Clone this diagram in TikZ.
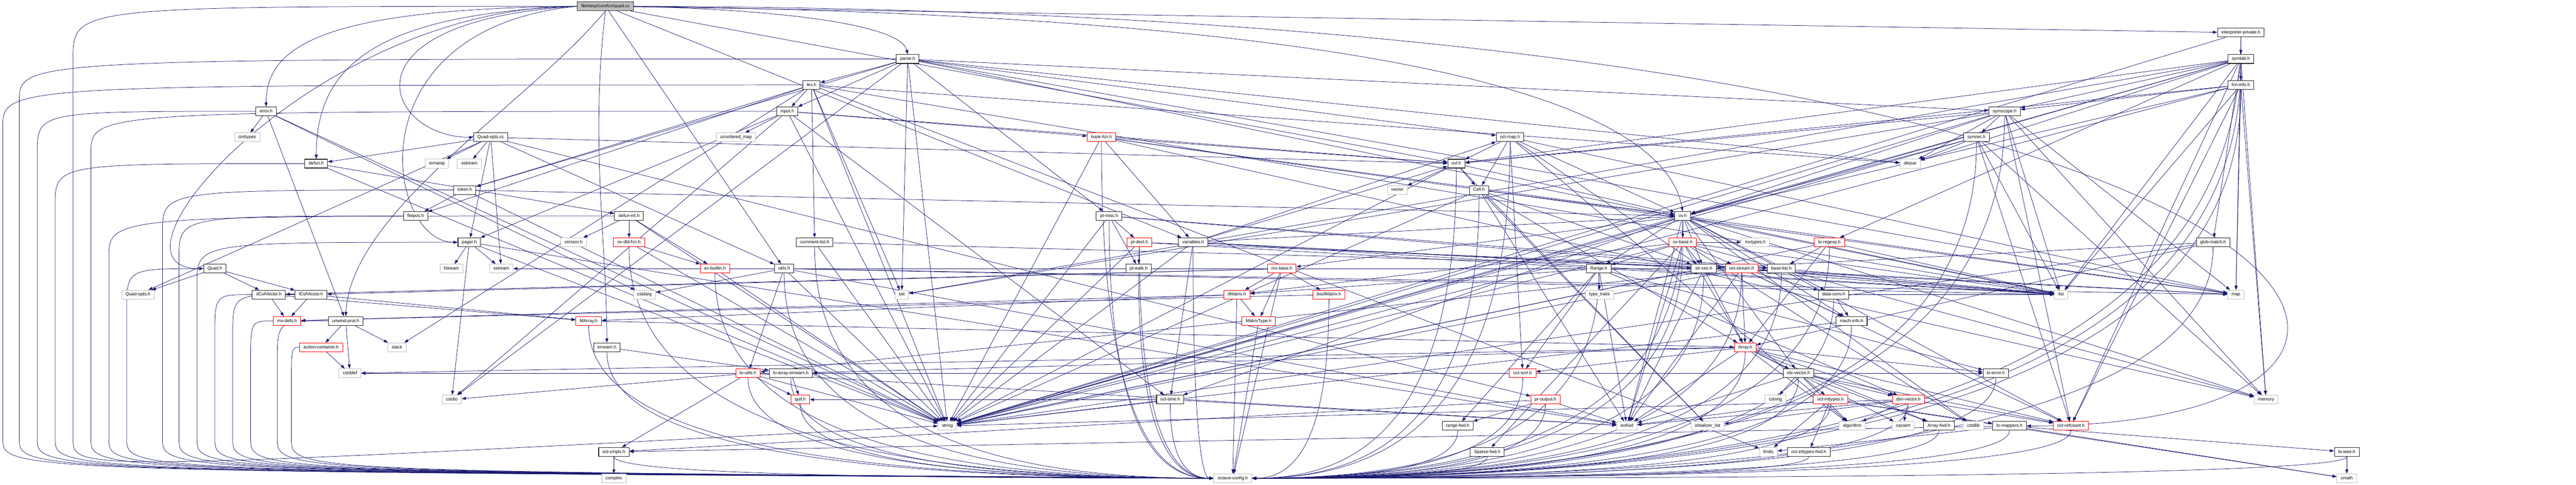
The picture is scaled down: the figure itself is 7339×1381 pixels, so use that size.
\documentclass[tikz,border=0pt]{standalone}
\usepackage{fontspec}
\setmainfont{Liberation Sans}
\usetikzlibrary{arrows.meta,backgrounds,calc}
\definecolor{edgeblue}{HTML}{191970}
\definecolor{sysgray}{HTML}{BFBFBF}
\begin{document}
\begin{tikzpicture}[x=1pt,y=-1pt,
  box/.style={draw, rectangle, fill=white, font=\fontsize{12.7}{14}\selectfont, inner xsep=11pt, inner ysep=0pt, minimum height=25pt, text height=9.5pt, text depth=2.7pt},
  doc/.style={box, draw=black!85, line width=1.6pt},
  sys/.style={box, draw=sysgray, line width=1.4pt},
  trunc/.style={box, draw=red, line width=1.4pt},
  rootn/.style={box, fill=sysgray, draw=black!80, line width=1.6pt},
  e/.style={draw=edgeblue, line width=1.1pt, -{Triangle[length=12pt,width=8.5pt]}}]
\useasboundingbox (0,0) rectangle (7339,1381);
% ---------------- nodes
\node[rootn] (quadcc) at (1725,18) {libinterp/corefcn/quad.cc};
\node[doc] (interppriv) at (6384,93) {interpreter-private.h};
\node[doc] (parseh) at (2586,168) {parse.h};
\node[doc] (symtab) at (6384,168) {symtab.h};
\node[doc] (lexh) at (2312,242) {lex.h};
\node[doc] (fcninfo) at (6384,242) {fcn-info.h};
\node[doc] (errorh) at (758,317) {error.h};
\node[doc] (inputh) at (2243,317) {input.h};
\node[doc] (symscope) at (5711,317) {symscope.h};
\node[sys] (cinttypes) at (704,391) {cinttypes};
\node[doc] (quadoptscc) at (1398,391) {Quad-opts.cc};
\node[sys] (unordmap) at (2097,391) {unordered\_map};
\node[trunc] (hookfcn) at (3138,391) {hook-fcn.h};
\node[doc] (octmap) at (4302,391) {oct-map.h};
\node[doc] (symrec) at (5631,391) {symrec.h};
\node[doc] (defunh) at (901,466) {defun.h};
\node[sys] (iomanip) at (1245,466) {iomanip};
\node[sys] (ostream) at (1337,466) {ostream};
\node[doc] (ovlh) at (4149,466) {ovl.h};
\node[sys] (deque) at (5442,466) {deque};
\node[doc] (tokenh) at (1324,541) {token.h};
\node[sys] (vector) at (3981,541) {vector};
\node[doc] (cellh) at (4214,541) {Cell.h};
\node[doc] (filepos) at (1184,615) {filepos.h};
\node[doc] (defunint) at (1792,615) {defun-int.h};
\node[doc] (ptmisc) at (3160,615) {pt-misc.h};
\node[doc] (ovh) at (4794,615) {ov.h};
\node[doc] (pagerh) at (1337,690) {pager.h};
\node[sys] (versionh) at (1634,690) {version.h};
\node[trunc] (ovdld) at (1792,690) {ov-dld-fcn.h};
\node[doc] (commentlist) at (2321,690) {comment-list.h};
\node[trunc] (ptdecl) at (3246,690) {pt-decl.h};
\node[doc] (variables) at (3399,690) {variables.h};
\node[trunc] (ovbase) at (4794,690) {ov-base.h};
\node[sys] (mxtypes) at (5001,690) {mxtypes.h};
\node[trunc] (loregexp) at (5212,690) {lo-regexp.h};
\node[doc] (globmatch) at (6305,690) {glob-match.h};
\node[doc] (quadh) at (612,765) {Quad.h};
\node[sys] (fstream) at (1286,765) {fstream};
\node[sys] (sstream) at (1428,765) {sstream};
\node[trunc] (ovbuiltin) at (2037,765) {ov-builtin.h};
\node[doc] (utilsh) at (2234,765) {utils.h};
\node[doc] (ptwalk) at (3244,765) {pt-walk.h};
\node[trunc] (mxbase) at (3652,765) {mx-base.h};
\node[doc] (rangeh) at (4555,765) {Range.h};
\node[doc] (strvec) at (4854,765) {str-vec.h};
\node[trunc] (octstream) at (4962,765) {oct-stream.h};
\node[doc] (baselist) at (5075,765) {base-list.h};
\node[sys] (quadoptsh) at (393,839) {Quad-opts.h};
\node[doc] (dcolvec) at (766,839) {dColVector.h};
\node[doc] (fcolvec) at (886,839) {fColVector.h};
\node[sys] (cstdarg) at (1836,839) {cstdarg};
\node[sys] (seth) at (2569,839) {set};
\node[trunc] (dmatrix) at (3524,839) {dMatrix.h};
\node[trunc] (boolmatrix) at (3786,839) {boolMatrix.h};
\node[sys] (typetraits) at (4557,839) {type\_traits};
\node[doc] (datac) at (5224,839) {data-conv.h};
\node[sys] (list) at (5872,839) {list};
\node[sys] (map) at (6370,839) {map};
\node[trunc] (mxdefs) at (818,914) {mx-defs.h};
\node[doc] (unwind) at (985,914) {unwind-prot.h};
\node[trunc] (marray) at (1677,914) {MArray.h};
\node[trunc] (matrixtype) at (3586,914) {MatrixType.h};
\node[doc] (machinfo) at (5275,914) {mach-info.h};
\node[trunc] (actioncont) at (915,989) {action-container.h};
\node[sys] (stack) at (1131,989) {stack};
\node[doc] (errwarn) at (1729,989) {errwarn.h};
\node[trunc] (arrayh) at (4972,989) {Array.h};
\node[sys] (cstddef) at (997,1063) {cstddef};
\node[trunc] (loutils) at (2131,1063) {lo-utils.h};
\node[doc] (loarrayerr) at (2253,1063) {lo-array-errwarn.h};
\node[trunc] (octsort) at (4338,1063) {oct-sort.h};
\node[doc] (idxvec) at (5124,1063) {idx-vector.h};
\node[doc] (loerror) at (5686,1063) {lo-error.h};
\node[sys] (cstdio) at (1287,1138) {cstdio};
\node[trunc] (quith) at (2280,1138) {quit.h};
\node[doc] (octtime) at (3334,1138) {oct-time.h};
\node[trunc] (proutput) at (4403,1138) {pr-output.h};
\node[sys] (cstring) at (5058,1138) {cstring};
\node[trunc] (octinttypes) at (5215,1138) {oct-inttypes.h};
\node[trunc] (dimvec) at (5437,1138) {dim-vector.h};
\node[sys] (memory) at (6456,1138) {memory};
\node[sys] (string) at (2699,1213) {string};
\node[doc] (rangefwd) at (4153,1213) {range-fwd.h};
\node[sys] (iosfwd) at (4635,1213) {iosfwd};
\node[sys] (initlist) at (4865,1213) {initializer\_list};
\node[sys] (algorithm) at (5277,1213) {algorithm};
\node[sys] (cassert) at (5422,1213) {cassert};
\node[doc] (arrayfwd) at (5524,1213) {Array-fwd.h};
\node[sys] (cstdlib) at (5622,1213) {cstdlib};
\node[doc] (lomappers) at (5725,1213) {lo-mappers.h};
\node[trunc] (octrefcount) at (5900,1213) {oct-refcount.h};
\node[doc] (octcmplx) at (1749,1287) {oct-cmplx.h};
\node[doc] (sparsefwd) at (4237,1287) {Sparse-fwd.h};
\node[sys] (limits) at (5038,1287) {limits};
\node[doc] (octinttypesfwd) at (5153,1287) {oct-inttypes-fwd.h};
\node[doc] (loieee) at (6686,1287) {lo-ieee.h};
\node[sys] (complex) at (1749,1362) {complex};
\node[sys] (octaveconfig) at (3512,1362) {octave-config.h};
\node[sys] (cmath) at (6686,1362) {cmath};
\coordinate (Bot) at (0,1250);
\coordinate (Tp) at (0,1342);
\coordinate (Lr) at (208,0);
% ---------------- edges
\begin{pgfonlayer}{background}
\draw[e] (quadcc.west) .. controls (900,18) and (250,765) .. (quadh.west);
\draw[e] (quadcc.west) .. controls (950,25) and (758,120) .. (errorh.north);
\draw[e] (quadcc.west) .. controls (1050,40) and (901,200) .. (defunh.north);
\draw[e] (quadcc.west) .. controls (950,60) and (1100,391) .. (quadoptscc.west);
\draw[e] (quadcc.west) .. controls (1000,80) and (1100,690) .. (pagerh.west);
\draw[e] (quadcc.south) .. controls (1680,400) and (1729,700) .. (errwarn.north);
\draw[e] (quadcc.east) .. controls (2300,30) and (2570,80) .. (parseh.north);
\draw[e] (quadcc.south) .. controls (1500,300) and (1000,600) .. (unwind.north);
\draw[e] (quadcc.east) .. controls (3500,40) and (4720,200) .. (ovh.north);
\draw[e] (quadcc.east) .. controls (6800,30) and (7250,1213) .. (lomappers.east);
\draw[e] (quadcc.west) .. controls (Lr |- quadcc.west) .. ($(Lr |- quadcc.west)+(0,150)$) -- (Lr |- Bot) .. controls (Lr |- Tp) .. (string.west);
\foreach \t in {utilsh,variables,ovlh,interppriv} \draw[e] (quadcc) -- (\t);
\foreach \t in {symtab,string} \draw[e] (interppriv) -- (\t);
\foreach \t in {fcninfo,symscope,globmatch,loregexp,map,list,seth,deque,string,ovh,ovlh,memory,octrefcount} \draw[e] (symtab) -- (\t);
\foreach \t in {symscope,ovh,ovlh,list,map,string,memory,octrefcount} \draw[e] (fcninfo) -- (\t);
\foreach \t in {lexh,ptmisc,symscope,tokenh,deque,list,map,seth,string,cstdio,octmap,inputh} \draw[e] (parseh) -- (\t);
\foreach \t in {inputh,tokenh,commentlist,filepos,stack,seth,deque,list,limits,string} \draw[e] (lexh) -- (\t);
\foreach \t in {unordmap,hookfcn,string,octtime,ovlh,cstdio,pagerh} \draw[e] (inputh) -- (\t);
\foreach \t in {cinttypes,cstdarg,unwind,string} \draw[e] (errorh) -- (\t);
\foreach \t in {symrec,deque,list,map,seth,string,memory,ovh,ovlh,octrefcount} \draw[e] (symscope) -- (\t);
\foreach \t in {iomanip,ostream,quadoptsh,defunh,proutput,ovlh,utilsh,pagerh,sstream} \draw[e] (quadoptscc) -- (\t);
\foreach \t in {string,map,memory,ovh,ovlh,variables} \draw[e] (hookfcn) -- (\t);
\foreach \t in {ovlh,cellh,ovh,strvec,octsort,map,algorithm} \draw[e] (octmap) -- (\t);
\foreach \t in {deque,list,string,ovh,memory,octrefcount} \draw[e] (symrec) -- (\t);
\foreach \t in {defunint,string} \draw[e] (defunh) -- (\t);
\foreach \t in {vector,cellh,ovh,string,initlist} \draw[e] (ovlh) -- (\t);
\foreach \t in {filepos,string,ovh} \draw[e] (tokenh) -- (\t);
\foreach \t in {ovh,arrayh,strvec,initlist,string,iosfwd} \draw[e] (cellh) -- (\t);
\foreach \t in {versionh,ovdld,ovbuiltin,string} \draw[e] (defunint) -- (\t);
\foreach \t in {ptdecl,ptwalk,list,baselist,string} \draw[e] (ptmisc) -- (\t);
\foreach \t in {ovbase,rangeh,strvec,datac,machinfo,idxvec,octtime,mxbase,octrefcount,iosfwd,list,map,string,cstdlib,memory} \draw[e] (ovh) -- (\t);
\foreach \t in {fstream,sstream,cstdio,iosfwd,string} \draw[e] (pagerh) -- (\t);
\foreach \t in {ovbuiltin,string} \draw[e] (ovdld) -- (\t);
\foreach \t in {string,baselist} \draw[e] (commentlist) -- (\t);
\foreach \t in {ptwalk,baselist,string,list} \draw[e] (ptdecl) -- (\t);
\foreach \t in {octtime,string,list,map,octmap,ovh,ovlh,strvec} \draw[e] (variables) -- (\t);
\foreach \t in {strvec,rangeh,mxtypes,dmatrix,sparsefwd,octstream,iosfwd,list,string,cstdlib,memory,arrayh} \draw[e] (ovbase) -- (\t);
\foreach \t in {baselist,arrayh,list,string} \draw[e] (loregexp) -- (\t);
\foreach \t in {string,strvec,arrayh} \draw[e] (globmatch) -- (\t);
\foreach \t in {quadoptsh,dcolvec,fcolvec} \draw[e] (quadh) -- (\t);
\draw[e] (ovbuiltin) -- (string);
\foreach \t in {loutils,cstdarg,string,list,map,iosfwd} \draw[e] (utilsh) -- (\t);
\foreach \t in {dcolvec,fcolvec,dmatrix,matrixtype,boolmatrix} \draw[e] (mxbase) -- (\t);
\foreach \t in {typetraits,iosfwd,octsort,loerror,dimvec,dmatrix,rangefwd} \draw[e] (rangeh) -- (\t);
\foreach \t in {arrayh,iosfwd,list,string} \draw[e] (strvec) -- (\t);
\foreach \t in {datac,machinfo,list,map,sstream,iosfwd,string,arrayh,loutils,octrefcount} \draw[e] (octstream) -- (\t);
\draw[e] (baselist) -- (list);
\foreach \t in {mxdefs,marray} \draw[e] (dcolvec) -- (\t);
\foreach \t in {mxdefs,marray} \draw[e] (fcolvec) -- (\t);
\foreach \t in {mxdefs,marray,matrixtype} \draw[e] (dmatrix) -- (\t);
\draw[e] (boolmatrix) -- (mxdefs);
\foreach \t in {machinfo,list} \draw[e] (datac) -- (\t);
\draw[e] (machinfo) -- (string);
\foreach \t in {actioncont,stack,cstddef} \draw[e] (unwind) -- (\t);
\draw[e] (marray) -- (arrayh);
\draw[e] (actioncont) -- (cstddef);
\draw[e] (errwarn) -- (loarrayerr);
\foreach \t in {idxvec,dimvec,loerror,arrayfwd,algorithm,cassert,cstddef,iosfwd,octsort,octrefcount,loarrayerr} \draw[e] (arrayh) -- (\t);
\foreach \t in {quith,octcmplx,cstdio,iosfwd,string} \draw[e] (loutils) -- (\t);
\foreach \t in {quith,loerror} \draw[e] (loarrayerr) -- (\t);
\foreach \t in {cstring,octinttypes,dimvec,algorithm,arrayfwd,octrefcount,iosfwd,cstddef,loarrayerr} \draw[e] (idxvec) -- (\t);
\foreach \t in {string,iosfwd,quith} \draw[e] (octtime) -- (\t);
\foreach \t in {rangefwd,iosfwd,octcmplx} \draw[e] (proutput) -- (\t);
\foreach \t in {limits,octinttypesfwd,cmath,lomappers,iosfwd} \draw[e] (octinttypes) -- (\t);
\foreach \t in {algorithm,cassert,initlist,iosfwd,octrefcount,string} \draw[e] (dimvec) -- (\t);
\foreach \t in {octcmplx,cmath,limits,loieee} \draw[e] (lomappers) -- (\t);
\draw[e] (octcmplx) -- (complex);
\draw[e] (loieee) -- (cmath);
% edges into octave-config.h routed round the left side
\foreach \s/\lx in {lexh/8,parseh/55,errorh/106,defunh/157,inputh/259,defunint/310,quadh/361,tokenh/463,filepos/510,pagerh/561,dcolvec/612,fcolvec/663,mxdefs/714,unwind/790,actioncont/830} {
  \coordinate (Lk) at (\lx,0);
  \draw[e] (\s.west) .. controls (\s.west -| Lk) .. ($(\s.west -| Lk)+(0,120)$) -- (Lk |- Bot) .. controls (Lk |- Tp) .. (octaveconfig.west);
}
% other edges into octave-config.h
\foreach \s in {ptmisc,ovdld,commentlist,ptdecl,variables,ovbuiltin,utilsh,ptwalk,marray,errwarn,loutils,loarrayerr,quith,octtime,octcmplx,hookfcn}
  \draw[e] (\s.south) .. controls ($(\s.south)!0.75!(\s.south |- octaveconfig.west)$) and ($(octaveconfig.west)!0.6!(octaveconfig.west -| \s.south)$) .. (octaveconfig.west);
\foreach \s in {interppriv,symtab,fcninfo,symscope,octmap,symrec,ovlh,cellh,ovh,ovbase,loregexp,globmatch,rangeh,strvec,octstream,baselist,boolmatrix,datac,machinfo,arrayh,octsort,idxvec,loerror,proutput,octinttypes,dimvec,rangefwd,arrayfwd,lomappers,octrefcount,sparsefwd,octinttypesfwd,loieee}
  \draw[e] (\s.south) .. controls ($(\s.south)!0.75!(\s.south |- octaveconfig.east)$) and ($(octaveconfig.east)!0.6!(octaveconfig.east -| \s.south)$) .. (octaveconfig.east);
\foreach \s in {dmatrix,matrixtype,mxbase} \draw[e] (\s) -- (octaveconfig);
\end{pgfonlayer}
\end{tikzpicture}
\end{document}
